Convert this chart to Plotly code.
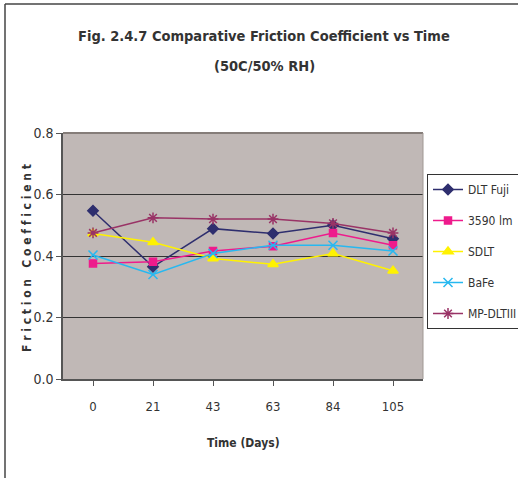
import plotly.graph_objects as go

# Storage time points (days) and measured friction coefficients
days = ["0", "21", "43", "63", "84", "105"]
dlt_fuji = [0.547, 0.365, 0.489, 0.473, 0.500, 0.456]
ibm_3590 = [0.376, 0.381, 0.416, 0.432, 0.475, 0.435]
sdlt = [0.473, 0.445, 0.392, 0.373, 0.408, 0.352]
bafe = [0.403, 0.340, 0.408, 0.435, 0.435, 0.416]
mp_dlt3 = [0.475, 0.524, 0.520, 0.520, 0.506, 0.475]

series_names = ["DLT Fuji", "3590 lm", "SDLT", "BaFe", "MP-DLTIII"]
y_ticks = [0.0, 0.2, 0.4, 0.6, 0.8]

FONT = "DejaVu Sans Condensed, Liberation Sans Narrow, Arial Narrow, sans-serif"

styles = [
    dict(color="#2E2E6E", symbol="diamond", size=8),
    dict(color="#EE1B8C", symbol="square", size=7),
    dict(color="#FFF200", symbol="triangle-up", size=9),
    dict(color="#27B8F0", symbol="x-thin-open", size=9),
    dict(color="#993366", symbol="asterisk-open", size=9),
]

fig = go.Figure()
for i, (name, vals, st) in enumerate(zip(series_names,
                                          [dlt_fuji, ibm_3590, sdlt, bafe, mp_dlt3],
                                          styles)):
    fig.add_trace(go.Scatter(
        x=days, y=vals, name=name, mode="lines+markers",
        legendgroup=f"g{i}",
        line=dict(color=st["color"], width=1.5),
        marker=dict(symbol=st["symbol"], size=st["size"], color=st["color"],
                    line=dict(color=st["color"], width=1.5)),
    ))

W, H = 518, 478
L, R, T, B = 63, 95, 133, 99
pw, ph = W - L - R, H - T - B


def px_x(p):
    return (p - L) / pw


def px_y(p):
    return (H - B - p) / ph


fig.update_layout(
    width=W, height=H,
    margin=dict(l=L, r=R, t=T, b=B, autoexpand=False),
    paper_bgcolor="white",
    plot_bgcolor="#C0B8B6",
    font=dict(family=FONT, size=13, color="#333333"),
    showlegend=True,
    legend=dict(
        x=px_x(427), y=px_y(174), xanchor="left", yanchor="top",
        bgcolor="white", bordercolor="#333333", borderwidth=1,
        font=dict(family=FONT, size=12, color="#333333"),
        tracegroupgap=12, itemwidth=30,
    ),
    xaxis=dict(
        type="category", range=[-0.5, 5.5],
        showgrid=False, showline=True, linecolor="#555555", linewidth=1.5,
        ticks="outside", ticklen=5, tickcolor="#555555",
        ticklabelstandoff=10,
        tickfont=dict(family=FONT, size=13, color="#333333"),
        zeroline=False, mirror=False,
    ),
    yaxis=dict(
        range=[0, 0.8], tickvals=y_ticks, ticktext=[f"{v:.1f}" for v in y_ticks],
        showgrid=True, gridcolor="#333333", gridwidth=1.3,
        showline=True, linecolor="#555555", linewidth=1.5,
        ticks="outside", ticklen=5, tickcolor="#555555",
        tickfont=dict(family=FONT, size=14, color="#333333"),
        zeroline=False,
    ),
)

# plot area frame: darker top edge, thin light right edge
fig.add_shape(type="line", xref="paper", yref="paper", x0=0, x1=1, y0=1, y1=1,
              line=dict(color="#857D79", width=2))
fig.add_shape(type="line", xref="paper", yref="paper", x0=1, x1=1, y0=0, y1=1,
              line=dict(color="#A09894", width=1))

# outer chart border (top and left edges)
fig.add_shape(type="line", xref="paper", yref="paper",
              x0=px_x(5), x1=px_x(520), y0=px_y(4), y1=px_y(4),
              line=dict(color="#444444", width=1.5))
fig.add_shape(type="line", xref="paper", yref="paper",
              x0=px_x(5), x1=px_x(5), y0=px_y(4), y1=px_y(480),
              line=dict(color="#444444", width=1.5))

# two-line title
for text, ypix in [("Fig. 2.4.7 Comparative Friction Coefficient vs Time", 36),
                   ("(50C/50% RH)", 66)]:
    fig.add_annotation(
        xref="paper", yref="paper", x=px_x(264), y=px_y(ypix),
        xanchor="center", yanchor="middle",
        text=f"<b>{text}</b>", showarrow=False,
        font=dict(family=FONT, size=14.5, color="#333333"),
    )

# axis titles
fig.add_annotation(
    xref="paper", yref="paper", x=px_x(243), y=px_y(443), xanchor="center", yanchor="middle",
    text="<b>Time (Days)</b>", showarrow=False,
    font=dict(family=FONT, size=12, color="#333333"),
)
fig.add_annotation(
    xref="paper", yref="paper", x=px_x(27), y=px_y(258), xanchor="center", yanchor="middle",
    text="<b>" + " ".join("Friction") + "   " + " ".join("Coefficient") + "</b>",
    textangle=-90, showarrow=False,
    font=dict(family=FONT, size=12, color="#333333"),
)

fig.write_html("out.html")
